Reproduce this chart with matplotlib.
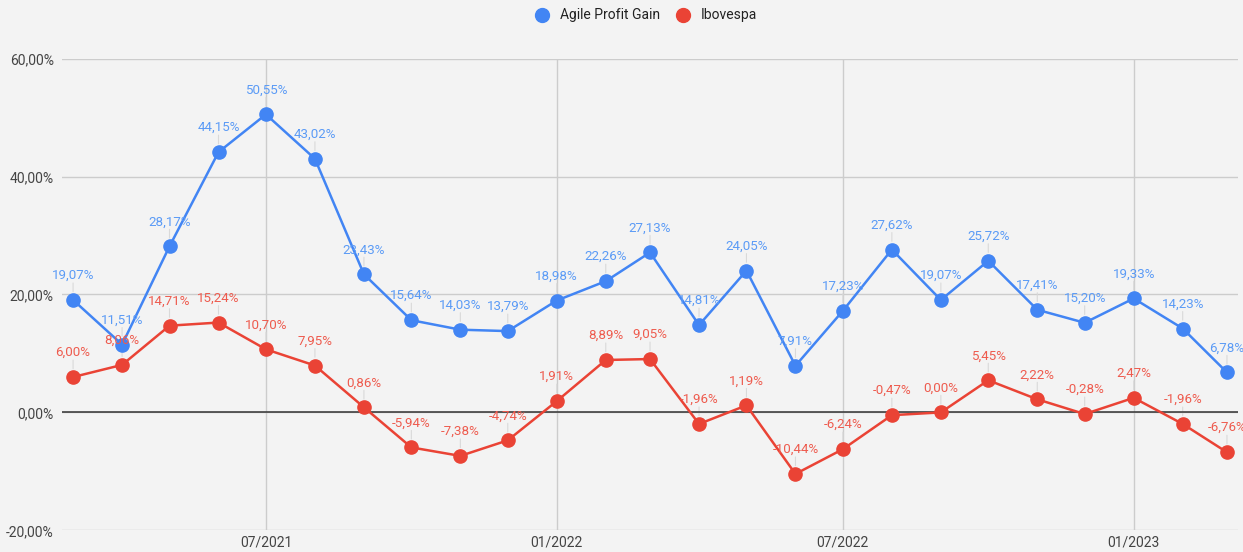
import pandas as pd
import matplotlib
matplotlib.use("Agg")
import matplotlib.pyplot as plt
import matplotlib.dates as mdates
from matplotlib.lines import Line2D

# ------------------------------------------------------------------
# Data (monthly returns, %)
# ------------------------------------------------------------------
months = [
    "2021-03", "2021-04", "2021-05", "2021-06", "2021-07", "2021-08",
    "2021-09", "2021-10", "2021-11", "2021-12", "2022-01", "2022-02",
    "2022-03", "2022-04", "2022-05", "2022-06", "2022-07", "2022-08",
    "2022-09", "2022-10", "2022-11", "2022-12", "2023-01", "2023-02",
    "2023-03",
]
agile = [
    19.07, 11.51, 28.17, 44.15, 50.55, 43.02, 23.43, 15.64, 14.03, 13.79,
    18.98, 22.26, 27.13, 14.81, 24.05, 7.91, 17.23, 27.62, 19.07, 25.72,
    17.41, 15.20, 19.33, 14.23, 6.78,
]
ibovespa = [
    6.00, 8.06, 14.71, 15.24, 10.70, 7.95, 0.86, -5.94, -7.38, -4.74,
    1.91, 8.89, 9.05, -1.96, 1.19, -10.44, -6.24, -0.47, 0.00, 5.45,
    2.22, -0.28, 2.47, -1.96, -6.76,
]
series_names = ["Agile Profit Gain", "Ibovespa"]
tick_dates = ["2021-07", "2022-01", "2022-07", "2023-01"]
y_ticks = [-20, 0, 20, 40, 60]

BLUE = "#4285F4"
RED = "#EA4335"
BLUE_LBL = "#5B9BF6"
RED_LBL = "#EE5B4E"
BG = "#F3F3F3"

plt.rcParams["font.family"] = ["Roboto", "DejaVu Sans"]


def pct(v):
    return f"{v:.2f}".replace(".", ",") + "%"


dates = pd.to_datetime(months)

fig = plt.figure(figsize=(12.43, 5.52), dpi=100, facecolor=BG)
ax = fig.add_axes([0.0499, 0.0393, 0.9461, 0.8544], facecolor=BG)

for values, color, lbl_color in [(agile, BLUE, BLUE_LBL), (ibovespa, RED, RED_LBL)]:
    ax.plot(dates, values, color=color, lw=1.8, marker="o", ms=9.5,
            zorder=4, clip_on=False)
    for d, v in zip(dates, values):
        # faint leader line from label to point
        ax.annotate("", xy=(d, v), xytext=(0, 17), textcoords="offset pixels",
                    arrowprops=dict(arrowstyle="-", color="#D9D9D9", lw=0.8,
                                    shrinkA=0, shrinkB=6),
                    zorder=2)
        ax.annotate(pct(v), xy=(d, v), xytext=(0, 18),
                    textcoords="offset pixels", ha="center", va="bottom",
                    fontsize=9.6, color=lbl_color, zorder=5,
                    annotation_clip=False)

# axes and grid
ax.set_ylim(-20, 60)
ax.set_xlim(pd.Timestamp("2021-02-22"), pd.Timestamp("2023-03-08"))
ax.set_yticks(y_ticks)
ax.set_yticklabels([pct(v) for v in y_ticks])
ax.set_xticks(pd.to_datetime(tick_dates))
ax.xaxis.set_major_formatter(mdates.DateFormatter("%m/%Y"))
ax.tick_params(length=0, labelsize=10, labelcolor="#444444")
ax.tick_params(axis="y", pad=6)
ax.tick_params(axis="x", pad=4)
ax.grid(True, color="#CCCCCC", lw=1)
ax.axhline(0, color="#333333", lw=1.1, zorder=3)
for s in ax.spines.values():
    s.set_visible(False)

# legend
handles = [
    Line2D([], [], ls="none", marker="o", ms=10, color=BLUE),
    Line2D([], [], ls="none", marker="o", ms=10, color=RED),
]
fig.legend(handles, series_names, loc="center", bbox_to_anchor=(0.517, 0.972),
           ncol=2, frameon=False, fontsize=10, handletextpad=0.3,
           columnspacing=0.6, labelcolor="#222222")

fig.savefig("out.png", dpi=100, facecolor=BG)
